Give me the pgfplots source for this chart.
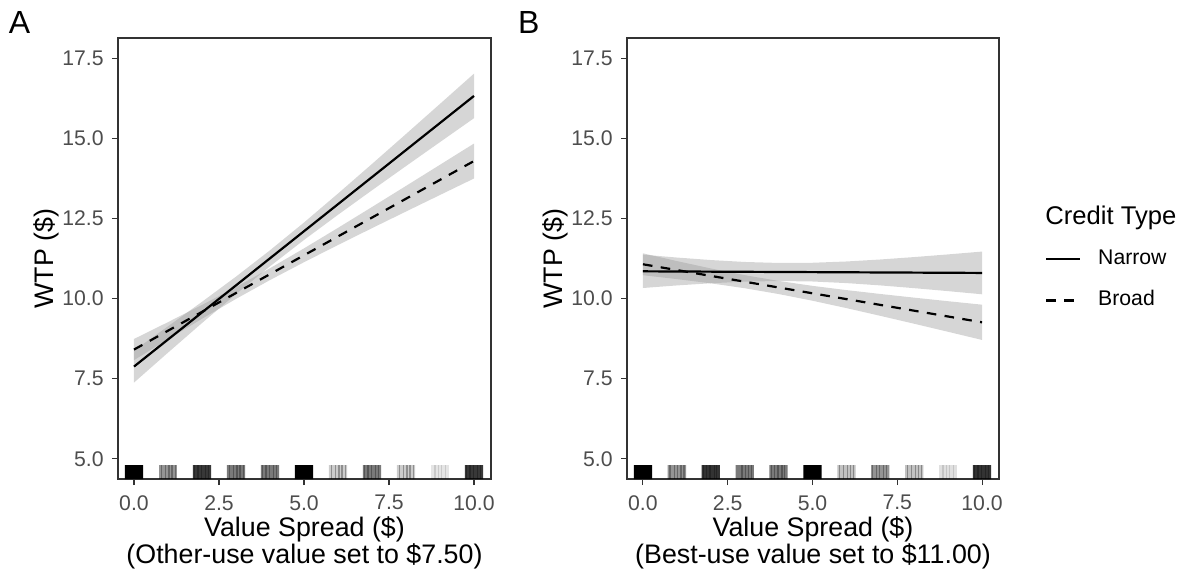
\documentclass[border=0pt]{standalone}
\usepackage{fontspec}
\setmainfont{Liberation Sans}
\usepackage{pgfplots}
\pgfplotsset{compat=1.18}
\definecolor{g20}{HTML}{333333}
\definecolor{g30}{HTML}{4D4D4D}
\definecolor{g60}{HTML}{999999}
\pgfplotsset{
  panel/.style={
    scale only axis, height=220.5pt,
    xmin=-0.47, xmax=10.5, ymin=4.374, ymax=18.126,
    axis line style={g20, line width=0.55pt},
    xtick={0,2.5,5,7.5,10}, ytick={5,7.5,10,12.5,15,17.5},
    xtick pos=left, ytick pos=left, tick align=outside,
    major tick length=3pt, every tick/.style={g20, line width=0.55pt},
    minor tick num=0,
    /pgf/number format/.cd, fixed, fixed zerofill, precision=1, assume math mode=true, /pgfplots/.cd,
    tick label style={font=\fontsize{10.6}{10.6}\selectfont, text=g30, inner sep=0pt},
    xticklabel style={anchor=north, yshift=-5pt},
    yticklabel style={anchor=east, xshift=-4pt},
    label style={font=\fontsize{13.4}{13.4}\selectfont},
    xlabel style={at={(axis description cs:0.5,-0.0839)}, anchor=north, inner sep=0pt, align=center},
    ylabel style={at={(axis description cs:-0.1735,0.5)}, anchor=base, inner sep=0pt},
    ylabel={WTP (\$)},
    clip mode=individual,
  },
  band/.style={draw=none, fill=g60, fill opacity=0.4, forget plot},
  fit/.style={black, line width=1.1pt},
  rug/.style={ybar, bar shift=0pt, bar width=0.54, draw=none, fill=black, fill opacity=#1, forget plot},
  stripe/.style={ycomb, black, line width=0.6pt, opacity=#1, forget plot},
}
\begin{document}
\begin{tikzpicture}
\useasboundingbox (0pt,0pt) rectangle (593.5pt,286.5pt);
% ---------------- Panel A
\begin{axis}[panel, width=186.5pt, at={(59pt,47pt)}, anchor=south west,
  xlabel={Value Spread (\$)\\(Other-use value set to \$7.50)}]
\addplot[band] coordinates {(0,8.38)(1,9.134)(2,9.899)(3,10.684)(4,11.506)(5,12.372)(6,13.275)(7,14.198)(8,15.132)(9,16.072)(10,17.015)
 (10,15.625)(9,14.880)(8,14.132)(7,13.378)(6,12.613)(5,11.828)(4,11.006)(3,10.140)(2,9.237)(1,8.314)(0,7.38)} -- cycle;
\addplot[band] coordinates {(0,8.74)(1,9.265)(2,9.802)(3,10.358)(4,10.946)(5,11.566)(6,12.205)(7,12.856)(8,13.513)(9,14.173)(10,14.835)
 (10,13.745)(9,13.231)(8,12.715)(7,12.196)(6,11.671)(5,11.134)(4,10.578)(3,9.990)(2,9.370)(1,8.731)(0,8.08)} -- cycle;
\addplot[fit, forget plot] coordinates {(0,7.88)(10,16.32)};
\addplot[fit, dash pattern=on 4.8pt off 4.2pt, forget plot] coordinates {(0,8.41)(10,14.29)};
% rug
\addplot[rug=1] coordinates {(0,4.81)(5,4.81)};
\addplot[rug=0.78] coordinates {(2,4.81)(10,4.81)};
\addplot[rug=0.52] coordinates {(3,4.81)(4,4.81)(7,4.81)};
\addplot[rug=0.42] coordinates {(1,4.81)};
\addplot[rug=0.2] coordinates {(6,4.81)(8,4.81)};
\addplot[rug=0.1] coordinates {(9,4.81)};
\addplot[stripe=0.3] coordinates {(0.80,4.81)(0.92,4.81)(1.03,4.81)(1.12,4.81)(1.21,4.81)
 (1.78,4.81)(1.88,4.81)(1.98,4.81)(2.10,4.81)(2.18,4.81)
 (2.80,4.81)(2.92,4.81)(3.03,4.81)(3.12,4.81)(3.21,4.81)
 (3.78,4.81)(3.88,4.81)(3.98,4.81)(4.10,4.81)(4.18,4.81)
 (5.80,4.81)(5.92,4.81)(6.03,4.81)(6.12,4.81)(6.21,4.81)
 (6.78,4.81)(6.88,4.81)(6.98,4.81)(7.10,4.81)(7.18,4.81)
 (7.80,4.81)(7.92,4.81)(8.03,4.81)(8.12,4.81)(8.21,4.81)
 (9.78,4.81)(9.88,4.81)(9.98,4.81)(10.10,4.81)(10.18,4.81)};
\addplot[stripe=0.12] coordinates {(8.85,4.81)(8.95,4.81)(9.05,4.81)(9.15,4.81)};
\end{axis}
% ---------------- Panel B
\begin{axis}[panel, width=186pt, at={(313.5pt,47pt)}, anchor=south west,
  xlabel={Value Spread (\$)\\(Best-use value set to \$11.00)},
  legend style={at={(axis description cs:1.1237,0.5215)}, anchor=north west, draw=none, fill=none,
    inner sep=0pt, outer sep=0pt, row sep=13.25pt, font=\fontsize{10.6}{10.6}\selectfont,
    nodes={inner sep=0pt, text height=7.6pt, text depth=0pt},
    /tikz/every odd column/.append style={column sep=8.5pt}},
  legend cell align=left,
  legend image code/.code={\draw[#1] (0pt,-1.05pt) -- (17pt,-1.05pt);}]
\addplot[band] coordinates {(0,11.37)(1,11.28)(2,11.202)(3,11.142)(4,11.111)(5,11.117)(6,11.157)(7,11.219)(8,11.295)(9,11.378)(10,11.466)
 (10,10.134)(9,10.232)(8,10.325)(7,10.411)(6,10.483)(5,10.533)(4,10.549)(3,10.528)(2,10.478)(1,10.41)(0,10.33)} -- cycle;
\addplot[band] coordinates {(0,11.411)(1,11.170)(2,10.940)(3,10.731)(4,10.550)(5,10.397)(6,10.265)(7,10.144)(8,10.029)(9,9.918)(10,9.81)
 (10,8.71)(9,8.964)(8,9.215)(7,9.462)(6,9.703)(5,9.933)(4,10.142)(3,10.323)(2,10.476)(1,10.608)(0,10.729)} -- cycle;
\addplot[fit] coordinates {(0,10.85)(10,10.80)};
\addlegendentry{Narrow}
\addplot[fit, dash pattern=on 4.8pt off 4.2pt] coordinates {(0,11.07)(10,9.26)};
\addlegendentry{Broad}
% rug
\addplot[rug=1] coordinates {(0,4.81)(5,4.81)};
\addplot[rug=0.8] coordinates {(2,4.81)(10,4.81)};
\addplot[rug=0.52] coordinates {(3,4.81)(4,4.81)};
\addplot[rug=0.42] coordinates {(1,4.81)(7,4.81)};
\addplot[rug=0.24] coordinates {(6,4.81)(8,4.81)};
\addplot[rug=0.12] coordinates {(9,4.81)};
\addplot[stripe=0.3] coordinates {(0.80,4.81)(0.92,4.81)(1.03,4.81)(1.12,4.81)(1.21,4.81)
 (1.78,4.81)(1.88,4.81)(1.98,4.81)(2.10,4.81)(2.18,4.81)
 (2.92,4.81)(3.03,4.81)(3.12,4.81)(3.21,4.81)
 (3.78,4.81)(3.88,4.81)(3.98,4.81)(4.10,4.81)(4.18,4.81)
 (5.80,4.81)(5.92,4.81)(6.03,4.81)(6.12,4.81)(6.21,4.81)
 (6.78,4.81)(6.88,4.81)(6.98,4.81)(7.10,4.81)(7.18,4.81)
 (7.80,4.81)(7.92,4.81)(8.03,4.81)(8.12,4.81)(8.21,4.81)
 (9.78,4.81)(9.88,4.81)(9.98,4.81)(10.10,4.81)(10.18,4.81)};
\addplot[stripe=0.12] coordinates {(8.85,4.81)(8.95,4.81)(9.05,4.81)(9.15,4.81)};
\end{axis}
% tags and legend title
\node[anchor=base west, inner sep=0pt, font=\fontsize{16}{16}\selectfont] at (4.3pt,269.5pt) {A};
\node[anchor=base west, inner sep=0pt, font=\fontsize{16}{16}\selectfont] at (258.8pt,269.5pt) {B};
\node[anchor=base west, inner sep=0pt, font=\fontsize{12.8}{12.8}\selectfont] at (522.5pt,174.25pt) {Credit Type};
\end{tikzpicture}
\end{document}
